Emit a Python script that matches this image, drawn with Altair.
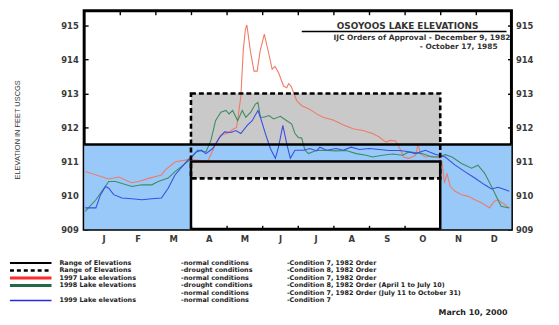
import json
import pandas as pd
import altair as alt

# ---------------- data ----------------
MONTHS = ["J", "F", "M", "A", "M", "J", "J", "A", "S", "O", "N", "D"]
MONTH_TICKS = list(range(0, 12))
Y_TICKS = [909, 909.5, 910, 910.5, 911, 911.5, 912, 912.5, 913, 913.5, 914, 914.5, 915]

RED_M = [0.03, 0.69, 0.97, 1.33, 1.53, 1.81, 2.17, 2.28, 2.56, 2.97, 3.47, 3.66, 3.83, 4.03, 4.17,
         4.28, 4.40, 4.47, 4.53, 4.57, 4.67, 4.77, 4.86, 4.94, 5.06, 5.19, 5.28, 5.36, 5.46, 5.60,
         5.69, 5.74, 5.81, 5.88, 5.97, 6.11, 6.33, 6.53, 6.71, 6.99, 7.27, 7.55, 7.83, 8.10, 8.29,
         8.47, 8.61, 8.75, 8.89, 8.97, 9.12, 9.31, 9.38, 9.44, 9.58, 9.77, 9.95, 10.05, 10.12, 10.19,
         10.28, 10.42, 10.60, 10.79, 10.97, 11.16, 11.39, 11.51, 11.62, 11.81, 11.94]
RED_V = [910.70, 910.48, 910.54, 910.37, 910.41, 910.50, 910.60, 910.75, 910.99, 911.06, 911.00,
         911.43, 911.77, 911.83, 911.94, 912.00, 912.90, 914.30, 914.90, 915.02, 914.24, 913.66,
         913.66, 914.24, 914.75, 914.15, 913.72, 913.80, 913.61, 913.22, 913.17, 913.29, 913.22,
         913.03, 912.79, 912.64, 912.54, 912.40, 912.30, 912.22, 912.08, 911.96, 911.91, 911.82,
         911.72, 911.57, 911.62, 911.60, 911.33, 911.13, 911.09, 911.18, 911.52, 911.23, 911.13,
         911.15, 911.13, 910.99, 910.36, 910.65, 910.26, 910.12, 910.02, 909.97, 909.87, 909.78,
         909.63, 909.82, 909.87, 909.73, 909.63]

GREEN_M = [0.03, 0.33, 0.69, 0.88, 1.34, 1.62, 1.90, 2.08, 2.36, 2.55, 2.96, 3.19, 3.42, 3.56, 3.69,
           3.75, 3.84, 3.98, 4.07, 4.17, 4.31, 4.44, 4.54, 4.68, 4.81, 4.88, 4.95, 5.05, 5.19, 5.32,
           5.51, 5.69, 5.83, 5.92, 6.02, 6.11, 6.20, 6.30, 6.53, 6.81, 7.08, 7.36, 7.64, 7.92, 8.10,
           8.38, 8.66, 8.94, 9.12, 9.49, 9.77, 9.95, 10.14, 10.33, 10.60, 10.88, 11.06, 11.25, 11.44,
           11.62, 11.71, 11.94]
GREEN_V = [909.53, 909.87, 910.41, 910.41, 910.26, 910.31, 910.31, 910.41, 910.51, 910.70, 911.04,
           911.33, 911.28, 911.62, 912.20, 912.30, 912.45, 912.50, 912.40, 912.50, 912.20, 912.50,
           912.30, 912.45, 912.69, 912.74, 912.30, 912.30, 912.35, 912.25, 912.33, 912.20, 912.10,
           911.82, 911.70, 911.69, 911.33, 911.23, 911.33, 911.32, 911.31, 911.32, 911.23, 911.18,
           911.13, 911.18, 911.22, 911.18, 911.28, 911.23, 911.13, 911.13, 911.20, 911.13, 910.94,
           910.80, 910.89, 910.65, 910.26, 909.87, 909.68, 909.63]

BLUE_M = [0.03, 0.33, 0.46, 0.60, 0.69, 0.83, 1.06, 1.34, 1.62, 1.90, 2.17, 2.36, 2.55, 2.83, 2.96,
          3.15, 3.29, 3.42, 3.61, 3.80, 3.94, 4.12, 4.26, 4.40, 4.58, 4.72, 4.88, 4.95, 5.09, 5.23,
          5.37, 5.46, 5.58, 5.69, 5.79, 5.92, 6.16, 6.34, 6.53, 6.62, 6.81, 7.08, 7.27, 7.50, 7.73,
          8.01, 8.29, 8.56, 8.84, 9.03, 9.31, 9.58, 9.86, 10.14, 10.42, 10.69, 10.97, 11.25, 11.44,
          11.62, 11.81, 11.94]
BLUE_V = [909.63, 909.63, 910.02, 910.26, 910.21, 910.02, 909.92, 909.90, 909.87, 909.90, 909.92,
          910.21, 910.60, 910.94, 911.09, 911.28, 911.33, 911.23, 911.38, 911.70, 911.87, 911.85,
          911.91, 911.82, 912.06, 912.20, 912.50, 912.30, 911.82, 911.38, 911.09, 911.43, 912.06,
          911.52, 911.09, 911.33, 911.33, 911.38, 911.31, 911.42, 911.33, 911.38, 911.33, 911.42,
          911.35, 911.38, 911.35, 911.32, 911.32, 911.30, 911.23, 911.33, 911.21, 911.13, 910.89,
          910.70, 910.51, 910.31, 910.19, 910.24, 910.17, 910.12]

# normal-condition band (Condition 7) as three blocks, drought band (Condition 8)
NORMAL_M1 = [0, 3, 10]
NORMAL_M2 = [3, 10, 12]
NORMAL_LOW = [909, 911, 909]
NORMAL_HIGH = [911.5, 911.5, 911.5]
NORMAL_TOP_M = [0, 12]
NORMAL_TOP_V = [911.5, 911.5]
NORMAL_EDGE_M = [3, 3, 10, 10]
NORMAL_EDGE_V = [909, 911, 911, 909]
DROUGHT_M = [3, 10]
DROUGHT_V = [910.5, 913]

TITLE = "OSOYOOS LAKE ELEVATIONS"
SUBTITLE_1 = "IJC Orders of Approval - December 9, 1982"
SUBTITLE_2 = "- October 17, 1985"
Y_TITLE = "ELEVATION IN FEET USCGS"
LEGEND_COL1 = ["Range of Elevations", "Range of Elevations", "1997 Lake elevations",
               "1998 Lake elevations", "", "1999 Lake elevations"]
LEGEND_COL2 = ["-normal conditions", "-drought conditions", "-normal conditions",
               "-drought conditions", "-normal conditions", "-normal conditions"]
LEGEND_COL3 = ["-Condition 7, 1982 Order", "-Condition 8, 1982 Order", "-Condition 7, 1982 Order",
               "-Condition 8, 1982 Order (April 1 to July 10)",
               "-Condition 7, 1982 Order (July 11 to October 31)", "-Condition 7"]
DATE_TEXT = "March 10, 2000"

# ---------------- styling ----------------
W, H = 432, 221
FONT = "DejaVu Sans"
RED, GREEN, BLUE = "#f07b68", "#3f8c60", "#3a4fe0"
LEG_COLORS = ["#000000", "#000000", "#ff2a2a", "#1f6b45", None, "#2a2ae0"]
LEG_WIDTH = [2, 2.5, 3, 3, 0, 1.6]
LEG_DASH = [None, [4, 3], None, None, None, None]

XS = alt.Scale(domain=[0, 12], nice=False, zero=False)
YS = alt.Scale(domain=[909, 915.44], nice=False, zero=False)

AX = dict(domain=False, grid=False, labelFont=FONT, labelFontSize=8.5, labelFontWeight="bold",
          labelColor="#3a3a3a", tickColor="black", tickWidth=1.4, offset=-4, tickSize=4)
YEXPR = "datum.value % 1 == 0 ? datum.label : ''"
MEXPR = json.dumps(MONTHS) + "[datum.value]"

ONE = alt.Data(values=[{"k": 1}])


def X(field, **kw):
    return alt.X(field, scale=XS, **kw) if kw else alt.X(field, scale=XS, axis=None)


def Y(field, **kw):
    return alt.Y(field, scale=YS, **kw) if kw else alt.Y(field, scale=YS, axis=None)


drought_df = pd.DataFrame({"m1": [DROUGHT_M[0]], "m2": [DROUGHT_M[1]],
                           "v1": [DROUGHT_V[0]], "v2": [DROUGHT_V[1]]})

drought_fill = alt.Chart(drought_df).mark_rect(fill="#c9c9c9").encode(
    x=X("m1:Q", axis=alt.Axis(orient="bottom", values=MONTH_TICKS, labelExpr=MEXPR,
                              labelOffset=18, labelPadding=5, title=None, **AX)),
    x2="m2",
    y=Y("v1:Q", axis=alt.Axis(orient="left", values=Y_TICKS, labelExpr=YEXPR, format="d",
                              labelPadding=6, title=Y_TITLE, titleAngle=270, titleX=-71,
                              titleY=120, titleFont="Liberation Sans", titleFontSize=7.5,
                              titleFontWeight="normal", titleColor="#333", titleAlign="center",
                              titleBaseline="middle", **AX)),
    y2="v2",
)

normal_df = pd.DataFrame({"m1": NORMAL_M1, "m2": NORMAL_M2, "lo": NORMAL_LOW, "hi": NORMAL_HIGH})
normal_fill = alt.Chart(normal_df).mark_rect(fill="#99c9f8").encode(
    x=X("m1:Q"), x2="m2", y=Y("lo:Q"), y2="hi")


def series(ms, vs, color):
    df = pd.DataFrame({"m": ms, "v": vs})
    return alt.Chart(df).mark_line(color=color, strokeWidth=1.1).encode(x=X("m:Q"), y=Y("v:Q"))


red_line = series(RED_M, RED_V, RED)
green_line = series(GREEN_M, GREEN_V, GREEN)
blue_line = series(BLUE_M, BLUE_V, BLUE)

drought_outline = alt.Chart(drought_df).mark_rect(
    fillOpacity=0, stroke="black", strokeWidth=2.6, strokeDash=[5, 3]).encode(
    x=X("m1:Q"), x2="m2", y=Y("v1:Q"), y2="v2")

top_df = pd.DataFrame({"m": NORMAL_TOP_M, "v": NORMAL_TOP_V})
normal_top = alt.Chart(top_df).mark_line(color="black", strokeWidth=2.5).encode(
    x=X("m:Q", axis=alt.Axis(orient="top", values=MONTH_TICKS[1:], labels=False, title=None, **AX)),
    y=Y("v:Q", axis=alt.Axis(orient="right", values=Y_TICKS, labelExpr=YEXPR, format="d",
                             labelPadding=4, title=None, **AX)),
)

edge_df = pd.DataFrame({"m": NORMAL_EDGE_M, "v": NORMAL_EDGE_V, "i": list(range(len(NORMAL_EDGE_M)))})
normal_edge = alt.Chart(edge_df).mark_line(color="black", strokeWidth=2.5).encode(
    x=X("m:Q"), y=Y("v:Q"), order="i:Q")


def label(text, x, y, size=6.5, align="left", weight="bold", color="#222", font=FONT):
    return alt.Chart(ONE).mark_text(text=text, align=align, baseline="middle", fontSize=size,
                                    fontWeight=weight, font=font, color=color).encode(
        x=alt.value(x), y=alt.value(y))


def rule(x1, x2, y, color, width, dash=None):
    kw = dict(color=color, strokeWidth=width)
    if dash:
        kw["strokeDash"] = dash
    return alt.Chart(ONE).mark_rule(**kw).encode(x=alt.value(x1), x2=alt.value(x2), y=alt.value(y))


annot = [
    label(TITLE, 327, 15, size=9, align="center", color="#333"),
    rule(220, 427, 21, "black", 1.5),
    label(SUBTITLE_1, 431, 28, size=7.5, align="right", color="#333"),
    label(SUBTITLE_2, 418, 37, size=7.5, align="right", color="#333"),
    label(DATE_TEXT, 428, 306, size=8, align="right"),
]

legend = []
for i in range(len(LEGEND_COL1)):
    yy = 255 + i * 7.6
    if LEG_COLORS[i]:
        legend.append(rule(-75, -33, yy, LEG_COLORS[i], LEG_WIDTH[i], LEG_DASH[i]))
    if LEGEND_COL1[i]:
        legend.append(label(LEGEND_COL1[i], -25, yy))
    legend.append(label(LEGEND_COL2[i], 98, yy))
    legend.append(label(LEGEND_COL3[i], 205, yy))

chart = alt.layer(
    drought_fill, normal_fill, red_line, green_line, blue_line,
    drought_outline, normal_top, normal_edge, *annot, *legend
).resolve_axis(x="independent", y="independent").properties(
    width=W, height=H,
    autosize=alt.AutoSizeParams(type="none"),
    padding={"left": 77, "top": 1, "right": 40, "bottom": 93},
    background="white",
).configure_view(stroke="black", strokeWidth=3)

chart.save("out.html", embed_options={"renderer": "svg", "actions": False})
